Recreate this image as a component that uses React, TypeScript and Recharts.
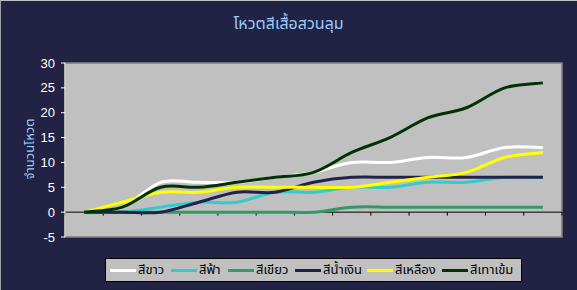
import React from 'react';
import { LineChart, Line, XAxis, YAxis, ReferenceArea, ReferenceLine, Legend } from 'recharts';

const days = [1, 2, 3, 4, 5, 6, 7, 8, 9, 10, 11, 12, 13];
const white = [0, 1, 6, 6, 6, 7, 8, 10, 10, 11, 11, 13, 13];
const sky = [0, 0, 1, 2, 2, 4, 4, 5, 5, 6, 6, 7, 7];
const green = [0, 0, 0, 0, 0, 0, 0, 1, 1, 1, 1, 1, 1];
const navy = [0, 0, 0, 2, 4, 4, 6, 7, 7, 7, 7, 7, 7];
const yellow = [0, 2, 4, 4, 5, 5, 5, 5, 6, 7, 8, 11, 12];
const darkGray = [0, 1, 5, 5, 6, 7, 8, 12, 15, 19, 21, 25, 26];
const yTicks = [-5, 0, 5, 10, 15, 20, 25, 30];
const boundaries = [0, 1, 2, 3, 4, 5, 6, 7, 8, 9, 10, 11, 12, 13];

const title = 'โหวตสีเสื้อสวนลุม';
const yLabel = 'จำนวนโหวต';

const series = [
  { key: 'w', name: 'สีขาว', color: '#FFFFFF', values: white },
  { key: 's', name: 'สีฟ้า', color: '#33CCCC', values: sky },
  { key: 'g', name: 'สีเขียว', color: '#339966', values: green },
  { key: 'n', name: 'สีน้ำเงิน', color: '#222248', values: navy },
  { key: 'y', name: 'สีเหลือง', color: '#FFFF00', values: yellow },
  { key: 'd', name: 'สีเทาเข้ม', color: '#003300', values: darkGray },
];

const data = days.map((d, i) => {
  const row: any = { x: d - 0.5 };
  series.forEach((s) => (row[s.key] = s.values[i]));
  return row;
});

// Excel-like smoothing (Catmull-Rom via cubic Bezier)
function excelSmooth(context: any) {
  let pts: number[][] = [];
  return {
    areaStart() {},
    areaEnd() {},
    lineStart() {
      pts = [];
    },
    lineEnd() {
      const n = pts.length;
      if (!n) return;
      context.moveTo(pts[0][0], pts[0][1]);
      for (let i = 0; i < n - 1; i++) {
        const p0 = pts[i - 1] || pts[i];
        const p1 = pts[i];
        const p2 = pts[i + 1];
        const p3 = pts[i + 2] || p2;
        context.bezierCurveTo(
          p1[0] + (p2[0] - p0[0]) / 6,
          p1[1] + (p2[1] - p0[1]) / 6,
          p2[0] - (p3[0] - p1[0]) / 6,
          p2[1] - (p3[1] - p1[1]) / 6,
          p2[0],
          p2[1]
        );
      }
    },
    point(x: number, y: number) {
      pts.push([+x, +y]);
    },
  };
}

const FONT = 'Tahoma, "Noto Sans Thai", "Noto Sans", "DejaVu Sans", sans-serif';
const legendLineX = [4, 65, 122, 189, 261, 336];

const LegendBox = () => (
  <div
    style={{
      position: 'relative',
      width: 417,
      height: 24,
      boxSizing: 'border-box',
      background: '#C0C0C0',
      border: '1px solid #000',
      fontFamily: FONT,
      fontSize: 13,
      color: '#000',
    }}
  >
    {series.map((s, i) => (
      <div key={s.key} style={{ position: 'absolute', left: legendLineX[i], top: 0, height: 22, display: 'flex', alignItems: 'center', whiteSpace: 'nowrap' }}>
        <span style={{ display: 'inline-block', width: 26, height: 3, background: s.color, marginRight: 2 }} />
        <span>{s.name}</span>
      </div>
    ))}
  </div>
);

const YLabel = (props: any) => {
  const vb = props.viewBox || { x: 0, y: 63, width: 65, height: 174 };
  const cx = vb.x + 30;
  const cy = vb.y + vb.height / 2 - 1;
  return (
    <text x={cx} y={cy} transform={`rotate(-90 ${cx} ${cy})`} textAnchor="middle" dominantBaseline="central" fill="#99CCFF" fontSize={13} fontFamily={FONT}>
      {yLabel}
    </text>
  );
};

export default function App() {
  return (
    <div style={{ position: 'fixed', left: 0, top: 0, width: 577, height: 290, background: '#222244', overflow: 'hidden' }}>
      <div style={{ position: 'absolute', left: 0, top: 0, width: 577, height: 290, boxSizing: 'border-box', borderLeft: '1px solid #A0A0A0', borderTop: '1px solid #C0C0C0', pointerEvents: 'none', zIndex: 2 }} />
      <div style={{ position: 'absolute', left: 0, top: 13, width: 577, textAlign: 'center', color: '#99CCFF', fontFamily: FONT, fontSize: 16, lineHeight: '22px' }}>
        {title}
      </div>
      <div style={{ position: 'absolute', left: 0, top: 0 }}>
        <LineChart width={577} height={290} data={data} margin={{ top: 63, right: 15, bottom: 53, left: 0 }}>
          <XAxis dataKey="x" type="number" domain={[0, 13]} hide />
          <YAxis
            type="number"
            domain={[-5, 30]}
            ticks={yTicks}
            width={65}
            interval={0}
            axisLine={{ stroke: '#FFFFFF' }}
            tickLine={{ stroke: '#FFFFFF' }}
            tickSize={4}
            tickMargin={6}
            tick={{ fill: '#FFFFFF', fontSize: 13, fontFamily: 'Arial, "Liberation Sans", sans-serif' }}
            label={<YLabel />}
          />
          <ReferenceArea x1={0} x2={13} y1={-5} y2={30} fill="#C0C0C0" fillOpacity={1} stroke="#808080" strokeWidth={1.5} />
          <ReferenceLine y={0} stroke="#000000" strokeWidth={1} />
          {boundaries.map((b) => (
            <ReferenceLine key={b} segment={[{ x: b, y: 0 }, { x: b, y: -0.7 }]} stroke="#000000" strokeWidth={1} />
          ))}
          {series.map((s) => (
            <Line
              key={s.key}
              dataKey={s.key}
              name={s.name}
              type={excelSmooth as any}
              stroke={s.color}
              strokeWidth={3}
              dot={false}
              activeDot={false}
              isAnimationActive={false}
            />
          ))}
          <Legend
            layout="horizontal"
            verticalAlign="middle"
            align="center"
            content={<LegendBox />}
            wrapperStyle={{ left: 105, top: 258, bottom: 'auto', width: 417, height: 24 }}
          />
        </LineChart>
      </div>
    </div>
  );
}
